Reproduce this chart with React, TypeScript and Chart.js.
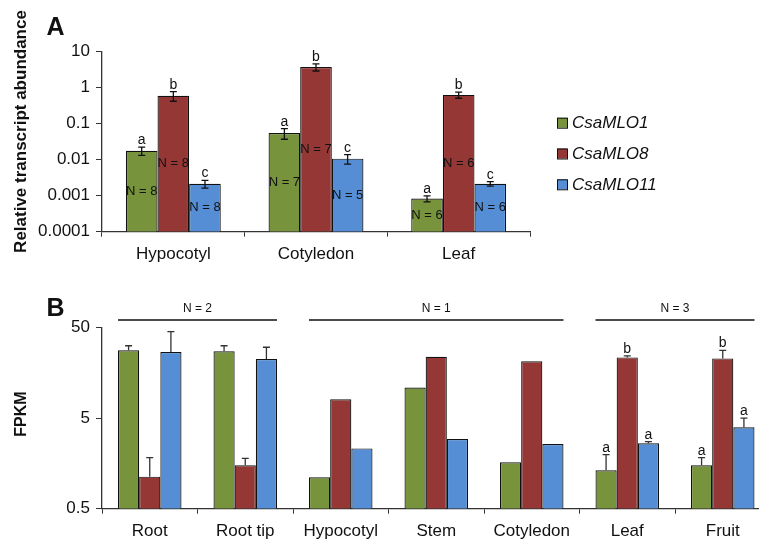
import React, { useEffect, useRef } from "react";
import { Chart, registerables } from "chart.js";

Chart.register(...registerables);

// ---------- Panel A data ----------
const categoriesA = ["Hypocotyl", "Cotyledon", "Leaf"];
const seriesNames = ["CsaMLO1", "CsaMLO8", "CsaMLO11"];
const mlo1A = [0.0178, 0.055, 0.00083];
const mlo8A = [0.6, 3.76, 0.63];
const mlo11A = [0.00215, 0.0107, 0.00215];
const seMlo1A = [0.0046, 0.018, 0.00016];
const seMlo8A = [0.18, 0.85, 0.12];
const seMlo11A = [0.00053, 0.0032, 0.0003];
const lettersMlo1A = ["a", "a", "a"];
const lettersMlo8A = ["b", "b", "b"];
const lettersMlo11A = ["c", "c", "c"];
const nMlo1A = ["N = 8", "N = 7", "N = 6"];
const nMlo8A = ["N = 8", "N = 7", "N = 6"];
const nMlo11A = ["N = 8", "N = 5", "N = 6"];
const yTicksA = [0.0001, 0.001, 0.01, 0.1, 1, 10];

// ---------- Panel B data ----------
const categoriesB = ["Root", "Root tip", "Hypocotyl", "Stem", "Cotyledon", "Leaf", "Fruit"];
const mlo1B = [28.1, 27.4, 1.11, 10.9, 1.63, 1.33, 1.51];
const mlo8B = [1.13, 1.51, 8.09, 23.9, 21.3, 23.5, 22.9];
const mlo11B = [26.9, 22.5, 2.32, 2.94, 2.59, 2.64, 3.97];
const seMlo1B = [3.5, 4.2, null, null, null, 0.65, 0.32];
const seMlo8B = [0.7, 0.29, null, null, null, 0.9, 5.2];
const seMlo11B = [18.3, 7.9, null, null, null, 0.11, 1.03];
const lettersMlo1B = ["", "", "", "", "", "a", "a"];
const lettersMlo8B = ["", "", "", "", "", "b", "b"];
const lettersMlo11B = ["", "", "", "", "", "a", "a"];
const groupLabelsB = ["N = 2", "N = 1", "N = 3"];
const groupFirstB = [0, 2, 5];
const groupLastB = [1, 4, 6];
const yTicksB = [0.5, 5, 50];

const colors = ["#77933C", "#953735", "#558ED5"];
const FONT = "'Liberation Sans', Arial, Helvetica, sans-serif";
const INK = "#111";

function drawErrorBars(chart: any, seList: (number | null)[][], both: boolean, color: string) {
  const ctx = chart.ctx;
  const y = chart.scales.y;
  ctx.save();
  ctx.strokeStyle = color;
  ctx.lineWidth = 1.3;
  seList.forEach((se, di) => {
    const meta = chart.getDatasetMeta(di);
    meta.data.forEach((bar: any, j: number) => {
      const s = se[j];
      if (s == null) return;
      const v = chart.data.datasets[di].data[j] as number;
      const top = y.getPixelForValue(v + s);
      const bot = both ? y.getPixelForValue(v - s) : bar.y;
      const cap = 3.5;
      ctx.beginPath();
      ctx.moveTo(bar.x, top);
      ctx.lineTo(bar.x, bot);
      ctx.moveTo(bar.x - cap, top);
      ctx.lineTo(bar.x + cap, top);
      if (both) {
        ctx.moveTo(bar.x - cap, bot);
        ctx.lineTo(bar.x + cap, bot);
      }
      ctx.stroke();
    });
  });
  ctx.restore();
}

function drawLetters(chart: any, letters: string[][], seList: (number | null)[][]) {
  const ctx = chart.ctx;
  const y = chart.scales.y;
  ctx.save();
  ctx.fillStyle = INK;
  ctx.font = `14px ${FONT}`;
  ctx.textAlign = "center";
  ctx.textBaseline = "alphabetic";
  letters.forEach((arr, di) => {
    const meta = chart.getDatasetMeta(di);
    meta.data.forEach((bar: any, j: number) => {
      const t = arr[j];
      if (!t) return;
      const v = chart.data.datasets[di].data[j] as number;
      const s = seList[di][j];
      const top = s != null ? y.getPixelForValue(v + s) : bar.y;
      ctx.fillText(t, bar.x, top - 3);
    });
  });
  ctx.restore();
}

function drawRotated(ctx: any, text: string, x: number, y: number, font: string) {
  ctx.save();
  ctx.translate(x, y);
  ctx.rotate(-Math.PI / 2);
  ctx.font = font;
  ctx.fillStyle = INK;
  ctx.textAlign = "center";
  ctx.textBaseline = "middle";
  ctx.fillText(text, 0, 0);
  ctx.restore();
}

const panelAPlugin = {
  id: "panelA",
  afterDatasetsDraw(chart: any) {
    const ctx = chart.ctx;
    drawErrorBars(chart, [seMlo1A, seMlo8A, seMlo11A], true, INK);
    drawLetters(chart, [lettersMlo1A, lettersMlo8A, lettersMlo11A], [seMlo1A, seMlo8A, seMlo11A]);
    // N labels centered in bars
    const nLabels = [nMlo1A, nMlo8A, nMlo11A];
    ctx.save();
    ctx.fillStyle = INK;
    ctx.font = `13px ${FONT}`;
    ctx.textAlign = "center";
    ctx.textBaseline = "middle";
    nLabels.forEach((arr, di) => {
      chart.getDatasetMeta(di).data.forEach((bar: any, j: number) => {
        ctx.fillText(arr[j], bar.x, (bar.y + bar.base) / 2);
      });
    });
    ctx.restore();
  },
  afterDraw(chart: any) {
    const ctx = chart.ctx;
    // legend
    ctx.save();
    const ys = [122.7, 153.5, 184.3];
    chart.data.datasets.forEach((ds: any, i: number) => {
      ctx.fillStyle = ds.backgroundColor;
      ctx.fillRect(557, ys[i] - 5, 10, 10);
      ctx.strokeStyle = INK;
      ctx.lineWidth = 1;
      ctx.strokeRect(557.5, ys[i] - 4.5, 10, 10);
      ctx.fillStyle = INK;
      ctx.font = `italic 17px ${FONT}`;
      ctx.textAlign = "left";
      ctx.textBaseline = "middle";
      ctx.fillText(ds.label, 572, ys[i] + 1);
    });
    ctx.font = `bold 25px ${FONT}`;
    ctx.textAlign = "center";
    ctx.textBaseline = "alphabetic";
    ctx.fillText("A", 55.5, 35);
    ctx.restore();
    drawRotated(ctx, "Relative transcript abundance", 21.5, 131.5, `bold 17px ${FONT}`);
  },
};

const panelBPlugin = {
  id: "panelB",
  afterDatasetsDraw(chart: any) {
    const ctx = chart.ctx;
    drawErrorBars(chart, [seMlo1B, seMlo8B, seMlo11B], false, "#333");
    drawLetters(chart, [lettersMlo1B, lettersMlo8B, lettersMlo11B], [seMlo1B, seMlo8B, seMlo11B]);
    // group lines
    const first = chart.getDatasetMeta(0).data;
    const last = chart.getDatasetMeta(2).data;
    ctx.save();
    ctx.strokeStyle = INK;
    ctx.lineWidth = 1.5;
    ctx.fillStyle = INK;
    ctx.font = `12px ${FONT}`;
    ctx.textAlign = "center";
    ctx.textBaseline = "middle";
    groupLabelsB.forEach((lab, g) => {
      const a = first[groupFirstB[g]];
      const b = last[groupLastB[g]];
      const x0 = a.x - a.width / 2;
      const x1 = b.x + b.width / 2;
      ctx.beginPath();
      ctx.moveTo(x0, 50);
      ctx.lineTo(x1, 50);
      ctx.stroke();
      ctx.fillText(lab, (x0 + x1) / 2, 39);
    });
    ctx.restore();
  },
  afterDraw(chart: any) {
    const ctx = chart.ctx;
    ctx.save();
    ctx.fillStyle = INK;
    ctx.font = `bold 25px ${FONT}`;
    ctx.textAlign = "center";
    ctx.textBaseline = "alphabetic";
    ctx.fillText("B", 55.5, 45.7);
    ctx.restore();
    drawRotated(ctx, "FPKM", 21.5, 144, `bold 16px ${FONT}`);
  },
};

function makeOptions(ticks: number[], padding: any, yWidth: number, xHeight: number) {
  return {
    responsive: false,
    animation: false as const,
    layout: { padding },
    plugins: { legend: { display: false }, tooltip: { enabled: false } },
    datasets: { bar: { categoryPercentage: 0.665, barPercentage: 1 } },
    scales: {
      x: {
        type: "category" as const,
        grid: { offset: true, drawOnChartArea: false, drawTicks: true, tickLength: 5, color: "#333", lineWidth: 1 },
        border: { display: true, color: "#333", width: 1.3 },
        ticks: { color: INK, font: { family: FONT, size: 17 }, padding: 7, maxRotation: 0, autoSkip: false },
        afterFit(scale: any) {
          scale.height = xHeight;
        },
      },
      y: {
        type: "logarithmic" as const,
        min: ticks[0],
        max: ticks[ticks.length - 1],
        grid: { drawOnChartArea: false, drawTicks: true, tickLength: 6, color: "#333", lineWidth: 1 },
        border: { display: true, color: "#333", width: 1.3 },
        ticks: {
          color: INK,
          font: { family: FONT, size: 17 },
          padding: 6,
          callback: (v: any) => String(v),
        },
        afterBuildTicks(scale: any) {
          scale.ticks = ticks.map((v) => ({ value: v }));
        },
        afterFit(scale: any) {
          scale.width = yWidth;
        },
      },
    },
  };
}

function makeDatasets(a: number[], b: number[], c: number[]) {
  return [a, b, c].map((d, i) => ({
    label: seriesNames[i],
    data: d,
    backgroundColor: colors[i],
    borderColor: "#111",
    borderWidth: 1.2,
    borderSkipped: "start" as const,
  }));
}

export default function App() {
  const refA = useRef<HTMLCanvasElement>(null);
  const refB = useRef<HTMLCanvasElement>(null);

  useEffect(() => {
    const chartA = new Chart(refA.current!, {
      type: "bar",
      data: { labels: categoriesA, datasets: makeDatasets(mlo1A, mlo8A, mlo11A) },
      options: makeOptions(yTicksA, { left: 0, top: 51.7, right: 229, bottom: 0 }, 102, 38.3) as any,
      plugins: [panelAPlugin],
    });
    const chartB = new Chart(refB.current!, {
      type: "bar",
      data: { labels: categoriesB, datasets: makeDatasets(mlo1B, mlo8B, mlo11B) },
      options: makeOptions(yTicksB, { left: 0, top: 57.7, right: 29.5, bottom: 0 }, 102, 32.3) as any,
      plugins: [panelBPlugin],
    });
    return () => {
      chartA.destroy();
      chartB.destroy();
    };
  }, []);

  return (
    <div
      style={{
        position: "fixed",
        left: 0,
        top: 0,
        width: 759,
        height: 541,
        overflow: "hidden",
        background: "#fff",
      }}
    >
      <canvas
        ref={refA}
        width={759}
        height={270}
        style={{ position: "absolute", left: 0, top: 0, width: 759, height: 270 }}
      />
      <canvas
        ref={refB}
        width={800}
        height={271}
        style={{ position: "absolute", left: 0, top: 270, width: 800, height: 271 }}
      />
    </div>
  );
}
